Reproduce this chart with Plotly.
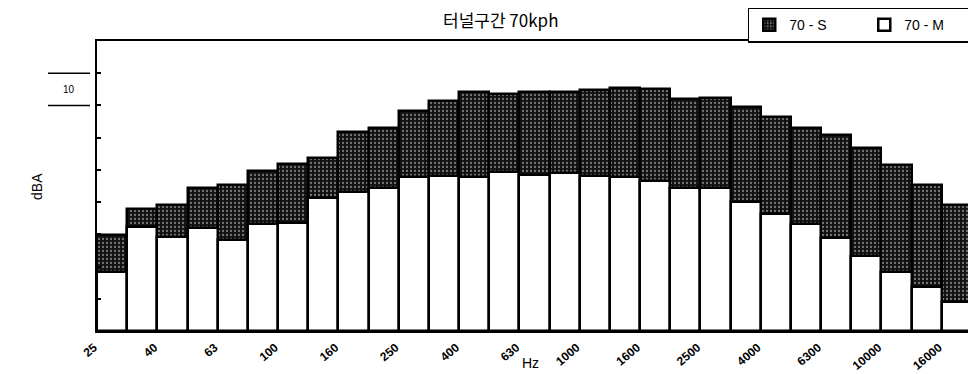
import plotly.graph_objects as go

bands = ["25", "31.5", "40", "50", "63", "80", "100", "125", "160", "200",
         "250", "315", "400", "500", "630", "800", "1000", "1250", "1600", "2000",
         "2500", "3150", "4000", "5000", "6300", "8000", "10000", "12500", "16000"]
s_values = [29.8, 37.9, 39.1, 44.4, 45.3, 49.7, 51.8, 53.7, 61.8, 63.0,
            68.3, 71.4, 74.2, 73.6, 74.2, 74.2, 74.8, 75.4, 75.1, 72.0,
            72.3, 69.5, 66.4, 63.0, 60.8, 56.8, 51.5, 45.3, 39.1]
m_values = [18.3, 32.3, 29.2, 32.0, 28.2, 33.2, 33.5, 41.3, 43.1, 44.4,
            47.8, 48.1, 47.8, 49.3, 48.4, 49.0, 48.1, 47.8, 46.6, 44.4,
            44.4, 40.0, 36.3, 33.2, 28.9, 23.3, 18.3, 13.7, 9.0]
tick_labels = ["25", "40", "63", "100", "160", "250", "400", "630", "1000",
               "1600", "2500", "4000", "6300", "10000", "16000"]
y_ticks = [10, 20, 30, 40, 50, 60, 70, 80]

fig = go.Figure()
fig.add_trace(go.Bar(
    x=bands, y=s_values, name="70 - S",
    marker=dict(color="#111111",
                line=dict(color="black", width=2.5),
                pattern=dict(shape=".", fgcolor="#dddddd", bgcolor="#111111",
                             size=4, solidity=0.25)),
))
fig.add_trace(go.Bar(
    x=bands, y=m_values, name="70 - M",
    marker=dict(color="white", line=dict(color="black", width=2.5)),
))

# page has an 8px body margin; figure is sized so the page is 976x374
fig.update_layout(
    width=968, height=366,
    margin=dict(l=89, r=4, t=33, b=43, autoexpand=False),
    paper_bgcolor="white", plot_bgcolor="white",
    barmode="overlay", bargap=0,
    font=dict(family="Liberation Sans, Arial, sans-serif", color="black"),
    showlegend=True,
    legend=dict(orientation="h", x=1.01, xanchor="right", y=1.115, yanchor="top",
                bordercolor="black", borderwidth=1.5, bgcolor="white",
                font=dict(size=14, family="Liberation Sans, Arial, sans-serif"),
                itemwidth=30, tracegroupgap=0, entrywidth=70,
                valign="middle"),
)

fig.update_xaxes(
    type="category", categoryorder="array", categoryarray=bands,
    range=[-0.5, len(bands) - 0.5],
    tickmode="array", tickvals=bands[::2], ticktext=tick_labels,
    tickangle=-40, tickfont=dict(size=12, family="Liberation Sans, Arial", weight="bold"),
    ticklabelshift=-18, ticklabelstandoff=3,
    showline=True, linecolor="black", linewidth=2, mirror=True,
    showgrid=False, ticks="", zeroline=False, automargin=False,
)
fig.update_yaxes(
    range=[0, 90], tickmode="array", tickvals=y_ticks, ticktext=[""] * len(y_ticks),
    ticks="inside", ticklen=4, tickcolor="black", tickwidth=1.5,
    showline=True, linecolor="black", linewidth=2,
    showgrid=False, zeroline=False, showticklabels=True, automargin=False,
)

# right border (dotted)
fig.add_shape(type="line", xref="paper", yref="paper", x0=1, x1=1, y0=0, y1=1,
              line=dict(color="black", width=1, dash="dot"))

# scale bar: 10 dB between two lines
for yv in (70, 80):
    fig.add_shape(type="line", xref="paper", yref="y", x0=-0.056, x1=-0.008,
                  y0=yv, y1=yv, line=dict(color="black", width=1.5))
fig.add_annotation(text="10", xref="paper", yref="y", x=-0.032, y=75,
                   xanchor="center", yanchor="middle",
                   showarrow=False, font=dict(size=10, family="Liberation Sans, Arial"))

fig.add_annotation(text="dBA", xref="paper", yref="paper", x=-0.0686, y=0.5,
                   xanchor="center", yanchor="middle",
                   textangle=-90, showarrow=False,
                   font=dict(size=14, family="Liberation Sans, Arial"))

fig.add_annotation(text="터널구간 70kph", xref="paper", yref="paper", x=0.4606, y=1.0,
                   xanchor="center", yanchor="middle",
                   yshift=22, showarrow=False,
                   font=dict(size=17, family="Noto Sans CJK KR"))

fig.add_annotation(text="Hz", xref="paper", yref="paper", x=0.495, y=0, yshift=-32,
                   xanchor="center", yanchor="middle",
                   showarrow=False, font=dict(size=14, family="Liberation Sans, Arial"))

fig.write_html("out.html")
